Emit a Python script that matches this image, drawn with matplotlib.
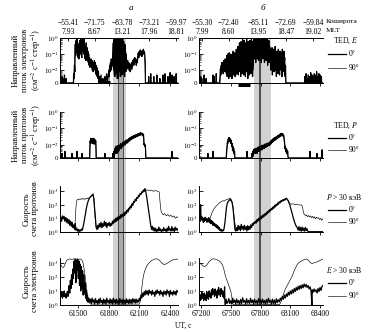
import numpy as np
import matplotlib.pyplot as plt
from matplotlib.lines import Line2D

plt.rcParams['font.family'] = ['Liberation Serif', 'DejaVu Serif']
plt.rcParams['mathtext.fontset'] = 'stix'
plt.rcParams['font.size'] = 5.5

# ---- time axes ----
xlim_a = (61320, 62480)
xlim_b = (67180, 68430)
xticks_a = [61500, 61800, 62100, 62400]
xticks_b = [67200, 67500, 67800, 68100, 68400]

# orbit labels on the top axis: UT, colatitude, MLT
orbit_ut_a = [61400, 61660, 61930, 62195, 62460]
colat_a = ['−55.41', '−71.75', '−83.78', '−73.21', '−59.97']
mlt_a = ['7.93', '8.67', '13.21', '17.96', '18.81']
orbit_ut_b = [67210, 67480, 67775, 68055, 68330]
colat_b = ['−55.30', '−72.40', '−85.11', '−72.69', '−59.84']
mlt_b = ['7.99', '8.60', '13.95', '18.47', '19.02']

# shaded crossing interval and darker core
shade_a = (61841, 61969)
core_a = (61890, 61940)
shade_b = (67735, 67905)
core_b = (67782, 67798)
bar_a = (61733, 61812)
bar_b = (67573, 67694)

# ---- TED electrons, flux (0 = no counts) ----
ted_e_a0 = [
    (61320, 0), (61338, 0), (61340, 0.004), (61342, 0), (61350, 0), (61352, 0.003), (61354, 0),
    (61362, 0), (61364, 0.005), (61366, 0), (61378, 0), (61380, 0.003), (61382, 0),
    (61452, 0), (61454, 0.006), (61458, 0.003), (61462, 0.02), (61466, 0.008), (61470, 0.4),
    (61474, 0.08), (61478, 0.7), (61482, 0.15), (61486, 0.9), (61490, 0.2), (61494, 0.5),
    (61498, 0.06), (61502, 0.35), (61506, 0.05), (61510, 0.25), (61514, 0.7), (61518, 0.1),
    (61522, 0.5), (61526, 0.9), (61530, 0.25), (61534, 0.06), (61538, 0.45), (61542, 1.0),
    (61546, 0.15), (61550, 0.6), (61554, 0.1), (61558, 0.8), (61562, 0.2), (61566, 0.05),
    (61570, 0.3), (61574, 0.04), (61578, 0.5), (61582, 0.08), (61586, 0.25), (61590, 0.04),
    (61594, 0.15), (61598, 0.03), (61602, 0.1), (61606, 0.02), (61610, 0.06), (61614, 0.015),
    (61618, 0.04), (61622, 0.02), (61626, 0.05), (61630, 0.015), (61634, 0.04), (61638, 0.01),
    (61642, 0.03), (61646, 0.008), (61650, 0.025), (61654, 0.01), (61658, 0.04), (61662, 0.012),
    (61666, 0.03), (61670, 0.006), (61674, 0.02), (61678, 0.005), (61682, 0.015), (61686, 0.004),
    (61690, 0.01), (61694, 0.003), (61698, 0.008), (61702, 0), (61710, 0.004), (61712, 0),
    (61724, 0.005), (61726, 0), (61740, 0.003), (61742, 0), (61760, 0.004), (61762, 0),
    (61780, 0.006), (61782, 0), (61796, 0.005), (61800, 0.01), (61804, 0.004), (61808, 0.02),
    (61812, 0.008), (61816, 0.03), (61820, 0.01), (61824, 0.05), (61828, 0.015), (61832, 0.04),
    (61836, 0.02), (61840, 0.08), (61844, 0.5), (61847, 0.01), (61850, 0.9), (61853, 0.02),
    (61856, 0.6), (61859, 0.004), (61862, 1.0), (61865, 0.03), (61868, 0.7), (61871, 0.006),
    (61874, 0.4), (61877, 0.01), (61880, 0.9), (61883, 0.02), (61886, 0.3), (61889, 0.003),
    (61892, 1.0), (61895, 0.05), (61898, 0.6), (61901, 0.008), (61904, 0.8), (61907, 0.02),
    (61910, 0.5), (61913, 0.004), (61916, 1.0), (61919, 0.03), (61922, 0.7), (61925, 0.01),
    (61928, 0.4), (61931, 0.005), (61934, 0.9), (61937, 0.02), (61940, 0.3), (61943, 0.006),
    (61946, 0.6), (61949, 0.015), (61952, 0.25), (61955, 0.004), (61958, 0.4), (61961, 0.01),
    (61964, 0.15), (61967, 0.008), (61970, 0.1), (61975, 0.03), (61980, 0.012), (61985, 0.04),
    (61990, 0.015), (61995, 0.03), (62000, 0.01), (62005, 0.025), (62010, 0.008), (62015, 0.02),
    (62020, 0.012), (62025, 0.03), (62030, 0.015), (62035, 0.04), (62040, 0.02), (62045, 0.05),
    (62050, 0.025), (62055, 0.06), (62060, 0.03), (62065, 0.05), (62070, 0.02), (62075, 0.04),
    (62080, 0.03), (62085, 0.08), (62090, 0.12), (62095, 0.06), (62100, 0.15), (62105, 0.09),
    (62110, 0.18), (62115, 0.1), (62120, 0.15), (62125, 0.07), (62130, 0.16), (62135, 0.12),
    (62140, 0.2), (62145, 0.1), (62150, 0.14), (62154, 0.08), (62158, 0.03), (62160, 0),
    (62190, 0), (62192, 0.004), (62194, 0), (62210, 0), (62212, 0.006), (62214, 0),
    (62240, 0), (62242, 0.004), (62244, 0), (62270, 0), (62272, 0.005), (62274, 0),
    (62300, 0), (62302, 0.003), (62304, 0), (62330, 0), (62332, 0.005), (62334, 0),
    (62350, 0), (62352, 0.006), (62354, 0), (62380, 0), (62382, 0.004), (62384, 0),
    (62400, 0), (62402, 0.007), (62404, 0), (62420, 0), (62422, 0.005), (62424, 0),
    (62440, 0), (62442, 0.004), (62444, 0), (62460, 0), (62462, 0.006), (62464, 0), (62480, 0),
]
ted_e_a90 = [
    (61320, 0), (61455, 0), (61460, 0.01), (61468, 0.2), (61476, 0.5), (61484, 0.1), (61492, 0.7),
    (61500, 0.2), (61508, 0.4), (61516, 0.08), (61524, 0.6), (61532, 0.15), (61540, 0.8),
    (61548, 0.3), (61556, 0.5), (61564, 0.1), (61572, 0.2), (61580, 0.05), (61590, 0.1),
    (61600, 0.03), (61612, 0.05), (61624, 0.02), (61636, 0.03), (61648, 0.015), (61660, 0.02),
    (61672, 0.01), (61684, 0.008), (61696, 0.004), (61700, 0), (61800, 0), (61805, 0.006),
    (61815, 0.02), (61825, 0.01), (61835, 0.04), (61845, 0.3), (61850, 0.005), (61858, 0.8),
    (61864, 0.01), (61872, 0.5), (61878, 0.003), (61886, 0.7), (61892, 0.02), (61900, 1.0),
    (61906, 0.01), (61914, 0.6), (61920, 0.004), (61928, 0.8), (61934, 0.02), (61942, 0.5),
    (61948, 0.008), (61956, 0.3), (61962, 0.01), (61970, 0.05), (61980, 0.02), (61992, 0.03),
    (62004, 0.012), (62016, 0.025), (62028, 0.01), (62040, 0.03), (62052, 0.02), (62064, 0.04),
    (62076, 0.025), (62088, 0.1), (62100, 0.12), (62112, 0.08), (62124, 0.13), (62136, 0.09),
    (62148, 0.11), (62156, 0.02), (62160, 0), (62480, 0),
]
ted_e_b0 = [
    (67180, 0), (67196, 0), (67198, 0.004), (67200, 0), (67206, 0), (67208, 0.003), (67210, 0),
    (67230, 0), (67232, 0.005), (67234, 0), (67250, 0), (67252, 0.003), (67254, 0),
    (67318, 0), (67320, 0.005), (67322, 0), (67332, 0), (67334, 0.004), (67336, 0),
    (67352, 0), (67354, 0.006), (67356, 0), (67388, 0),
    (67392, 0.004), (67396, 0.012), (67400, 0.005), (67404, 0.02), (67408, 0.008), (67412, 0.03),
    (67416, 0.01), (67420, 0.025), (67424, 0.006), (67428, 0.04), (67432, 0.012), (67436, 0.03),
    (67440, 0.008), (67444, 0.05), (67448, 0.015), (67452, 0.04), (67456, 0.006), (67460, 0.08),
    (67464, 0.004), (67468, 0.1), (67472, 0.01), (67476, 0.06), (67480, 0.003), (67484, 0.12),
    (67488, 0.02), (67492, 0.07), (67496, 0.004), (67500, 0.1), (67504, 0.015), (67508, 0.05),
    (67512, 0.003), (67516, 0.09), (67520, 0.01), (67524, 0.15), (67528, 0.005), (67532, 0.08),
    (67536, 0.02), (67540, 0.12), (67544, 0.004), (67548, 0.06), (67552, 0.01), (67556, 0.2),
    (67560, 0.006), (67564, 0.1), (67568, 0.015), (67572, 0.3), (67576, 0.005), (67580, 0.15),
    (67584, 0.02), (67588, 0.5), (67592, 0.008), (67596, 0.25), (67600, 0.004), (67604, 0.6),
    (67608, 0.03), (67612, 0.3), (67616, 0.006), (67620, 0.8), (67624, 0.02), (67628, 0.4),
    (67632, 0.005), (67636, 0.7), (67640, 0.01), (67644, 0.3), (67648, 0.004), (67652, 0.5),
    (67656, 0.02), (67660, 0.9), (67664, 0.008), (67668, 0.35), (67672, 0.003), (67676, 0.6),
    (67680, 0.015), (67684, 0.25), (67688, 0.005), (67692, 0.7), (67696, 0.02), (67700, 0.4),
    (67704, 0.006), (67708, 0.8), (67712, 0.01), (67716, 0.3), (67720, 0.004), (67724, 0.6),
    (67728, 0.02), (67732, 1.0), (67736, 0.05), (67740, 0.9), (67744, 0.1), (67748, 1.0),
    (67752, 0.03), (67756, 0.7), (67760, 0.2), (67764, 1.0), (67768, 0.05), (67772, 0.8),
    (67776, 0.15), (67780, 1.0), (67784, 0.04), (67788, 0.6), (67792, 0.1), (67796, 1.0),
    (67800, 0.08), (67804, 0.9), (67808, 0.03), (67812, 0.7), (67816, 0.2), (67820, 1.0),
    (67824, 0.05), (67828, 0.5), (67832, 0.1), (67836, 0.9), (67840, 0.03), (67844, 0.6),
    (67848, 0.15), (67852, 1.0), (67856, 0.04), (67860, 0.4), (67864, 0.08), (67868, 0.8),
    (67872, 0.02), (67876, 0.5), (67880, 0.1), (67884, 0.7), (67888, 0.03), (67892, 0.3),
    (67896, 0.06), (67900, 0.2), (67904, 0.01), (67908, 0.15), (67912, 0.03), (67916, 0.25),
    (67920, 0.005), (67924, 0.1), (67928, 0.02), (67932, 0.2), (67936, 0.008), (67940, 0.12),
    (67944, 0.03), (67948, 0.3), (67952, 0.01), (67956, 0.1), (67960, 0.004), (67964, 0.15),
    (67968, 0.02), (67972, 0.08), (67976, 0.006), (67980, 0.2), (67984, 0.015), (67988, 0.1),
    (67992, 0.005), (67996, 0.15), (68000, 0.03), (68004, 0.08), (68008, 0.01), (68012, 0.12),
    (68016, 0.004), (68020, 0.2), (68024, 0.02), (68028, 0.1), (68032, 0.008), (68036, 0.15),
    (68040, 0.03), (68044, 0.06), (68048, 0.004), (68052, 0.02), (68056, 0),
    (68246, 0), (68248, 0.004), (68250, 0), (68256, 0), (68258, 0.006), (68260, 0),
    (68268, 0), (68270, 0.003), (68272, 0), (68280, 0), (68282, 0.005), (68284, 0),
    (68292, 0), (68294, 0.004), (68296, 0), (68304, 0), (68306, 0.007), (68308, 0),
    (68316, 0), (68318, 0.005), (68320, 0), (68328, 0), (68330, 0.004), (68332, 0),
    (68340, 0), (68342, 0.006), (68344, 0), (68352, 0), (68354, 0.005), (68356, 0),
    (68364, 0), (68366, 0.008), (68368, 0), (68376, 0), (68378, 0.004), (68380, 0),
    (68388, 0), (68390, 0.006), (68392, 0), (68400, 0), (68402, 0.005), (68404, 0),
    (68412, 0), (68414, 0.004), (68416, 0), (68430, 0),
]
ted_e_b90 = [
    (67180, 0), (67390, 0), (67400, 0.01), (67420, 0.03), (67440, 0.015), (67460, 0.05),
    (67470, 0.005), (67480, 0.08), (67490, 0.01), (67500, 0.06), (67512, 0.004), (67524, 0.1),
    (67536, 0.01), (67548, 0.08), (67560, 0.005), (67572, 0.2), (67584, 0.01), (67596, 0.3),
    (67608, 0.02), (67620, 0.5), (67632, 0.008), (67644, 0.4), (67656, 0.02), (67668, 0.6),
    (67680, 0.01), (67692, 0.5), (67704, 0.03), (67716, 0.7), (67728, 0.01), (67740, 0.8),
    (67752, 0.05), (67764, 0.9), (67776, 0.1), (67788, 0.7), (67800, 0.05), (67812, 0.8),
    (67824, 0.1), (67836, 0.6), (67848, 0.05), (67860, 0.5), (67872, 0.04), (67884, 0.4),
    (67896, 0.03), (67910, 0.15), (67922, 0.01), (67934, 0.1), (67946, 0.02), (67958, 0.12),
    (67970, 0.008), (67982, 0.1), (67994, 0.02), (68006, 0.08), (68018, 0.01), (68030, 0.06),
    (68042, 0.02), (68050, 0.005), (68056, 0), (68430, 0),
]

# ---- TED protons, flux ----
ted_p_a0 = [
    (61320, 0), (61338, 0), (61340, 0.003), (61342, 0), (61366, 0), (61368, 0.004), (61370, 0),
    (61372, 0.003), (61374, 0), (61436, 0), (61438, 0.003), (61440, 0), (61485, 0),
    (61487, 0.004), (61489, 0), (61534, 0), (61536, 0.003), (61538, 0), (61612, 0),
    (61614, 0.006), (61617, 0.018), (61620, 0.012), (61623, 0.025), (61626, 0.014),
    (61629, 0.022), (61632, 0.013), (61635, 0.024), (61638, 0.015), (61641, 0.02),
    (61644, 0.012), (61647, 0.025), (61650, 0.014), (61653, 0.021), (61656, 0.011),
    (61659, 0.023), (61662, 0.013), (61665, 0.02), (61668, 0.012), (61671, 0.018),
    (61674, 0.006), (61676, 0), (61760, 0), (61762, 0.003), (61764, 0), (61838, 0),
    (61840, 0.003), (61843, 0), (61848, 0.004), (61851, 0), (61856, 0.003), (61860, 0.006),
    (61864, 0.003), (61868, 0.008), (61872, 0.004), (61876, 0.006), (61880, 0.003),
    (61884, 0.009), (61888, 0.005), (61892, 0.007), (61896, 0.004), (61900, 0.01),
    (61904, 0.005), (61908, 0.008), (61912, 0.006), (61916, 0.012), (61920, 0.006),
    (61924, 0.01), (61928, 0.007), (61932, 0.012), (61936, 0.008), (61940, 0.015),
    (61944, 0.009), (61948, 0.013), (61952, 0.01), (61956, 0.016), (61960, 0.01),
    (61964, 0.018), (61968, 0.012), (61972, 0.02), (61976, 0.014), (61980, 0.018),
    (61985, 0.013), (61990, 0.022), (61995, 0.016), (62000, 0.025), (62005, 0.018),
    (62010, 0.028), (62015, 0.02), (62020, 0.03), (62025, 0.022), (62030, 0.032),
    (62035, 0.024), (62040, 0.035), (62045, 0.026), (62050, 0.038), (62055, 0.028),
    (62060, 0.04), (62065, 0.03), (62070, 0.042), (62075, 0.032), (62080, 0.045),
    (62085, 0.034), (62090, 0.048), (62095, 0.036), (62100, 0.05), (62105, 0.038),
    (62110, 0.055), (62115, 0.04), (62120, 0.052), (62125, 0.042), (62130, 0.05),
    (62135, 0.035), (62140, 0.045), (62144, 0.02), (62146, 0.01), (62150, 0.012),
    (62154, 0.008), (62158, 0.01), (62162, 0.004), (62164, 0), (62420, 0), (62422, 0.004),
    (62424, 0), (62480, 0),
]
ted_p_a90 = [
    (61320, 0), (61612, 0), (61615, 0.015), (61625, 0.02), (61635, 0.017), (61645, 0.022),
    (61655, 0.016), (61665, 0.019), (61673, 0.01), (61676, 0), (61845, 0), (61850, 0.003),
    (61870, 0.005), (61890, 0.006), (61910, 0.008), (61930, 0.01), (61950, 0.012),
    (61970, 0.015), (61990, 0.018), (62010, 0.022), (62030, 0.026), (62050, 0.03),
    (62070, 0.035), (62090, 0.04), (62110, 0.045), (62130, 0.042), (62143, 0.03),
    (62146, 0.01), (62160, 0.008), (62164, 0), (62480, 0),
]
ted_p_b0 = [
    (67180, 0), (67268, 0), (67270, 0.003), (67272, 0), (67319, 0), (67321, 0.004), (67323, 0),
    (67455, 0), (67458, 0.004), (67462, 0.008), (67466, 0.015), (67470, 0.012), (67474, 0.022),
    (67478, 0.016), (67482, 0.028), (67486, 0.018), (67490, 0.025), (67494, 0.015),
    (67498, 0.022), (67502, 0.012), (67506, 0.018), (67510, 0.008), (67514, 0.012),
    (67518, 0.005), (67522, 0.008), (67526, 0.004), (67530, 0.006), (67534, 0.003),
    (67538, 0.004), (67542, 0), (67662, 0), (67664, 0.004), (67666, 0), (67712, 0),
    (67714, 0.003), (67718, 0.002), (67722, 0.004), (67726, 0.002), (67730, 0.005),
    (67734, 0.003), (67738, 0.005), (67742, 0.003), (67746, 0.006), (67750, 0.003),
    (67754, 0.005), (67758, 0.004), (67762, 0.006), (67766, 0.003), (67770, 0.007),
    (67774, 0.004), (67778, 0.006), (67782, 0.004), (67786, 0.008), (67790, 0.004),
    (67794, 0.007), (67798, 0.005), (67802, 0.008), (67806, 0.005), (67810, 0.009),
    (67814, 0.005), (67818, 0.008), (67822, 0.006), (67826, 0.01), (67830, 0.006),
    (67834, 0.009), (67838, 0.006), (67842, 0.011), (67846, 0.007), (67850, 0.01),
    (67854, 0.007), (67858, 0.012), (67862, 0.008), (67866, 0.011), (67870, 0.008),
    (67874, 0.013), (67878, 0.009), (67882, 0.012), (67886, 0.009), (67890, 0.014),
    (67894, 0.01), (67898, 0.016), (67902, 0.011), (67906, 0.018), (67910, 0.013),
    (67914, 0.02), (67918, 0.014), (67922, 0.022), (67926, 0.016), (67930, 0.024),
    (67934, 0.017), (67938, 0.026), (67942, 0.019), (67946, 0.028), (67950, 0.02),
    (67954, 0.03), (67958, 0.022), (67962, 0.032), (67966, 0.024), (67970, 0.034),
    (67974, 0.026), (67978, 0.038), (67982, 0.028), (67986, 0.04), (67990, 0.03),
    (67994, 0.044), (67998, 0.033), (68002, 0.046), (68006, 0.035), (68010, 0.05),
    (68014, 0.037), (68018, 0.05), (68022, 0.038), (68026, 0.045), (68030, 0.032),
    (68034, 0.038), (68038, 0.025), (68042, 0.015), (68046, 0.006), (68050, 0.008),
    (68054, 0.004), (68058, 0.006), (68062, 0.003), (68066, 0.005), (68070, 0.003),
    (68074, 0.004), (68078, 0.002), (68082, 0), (68297, 0), (68299, 0.004), (68301, 0),
    (68367, 0), (68369, 0.003), (68371, 0), (68418, 0), (68420, 0.005), (68422, 0), (68430, 0),
]
ted_p_b90 = [
    (67180, 0), (67458, 0), (67462, 0.006), (67472, 0.015), (67482, 0.02), (67492, 0.018),
    (67502, 0.014), (67512, 0.009), (67522, 0.005), (67532, 0.003), (67540, 0), (67720, 0),
    (67724, 0.003), (67760, 0.004), (67800, 0.006), (67840, 0.008), (67880, 0.011),
    (67920, 0.017), (67960, 0.025), (68000, 0.035), (68020, 0.04), (68035, 0.03),
    (68042, 0.012), (68060, 0.004), (68080, 0), (68430, 0),
]

# ---- count rates, P > 30 keV ----
rate_p_a0 = [
    (61320, 8), (61328, 12), (61336, 6), (61344, 15), (61352, 9), (61360, 14), (61368, 6),
    (61376, 11), (61384, 5), (61392, 9), (61400, 4), (61408, 8), (61416, 3), (61424, 6),
    (61432, 2.5), (61440, 5), (61448, 2), (61456, 3), (61464, 1.5), (61470, 4), (61476, 1.3),
    (61484, 1.8), (61492, 1.1), (61500, 1.5), (61508, 1.0), (61516, 1.4), (61524, 1.1),
    (61532, 1.6), (61540, 1.3), (61548, 2.5), (61556, 5), (61564, 12), (61572, 25), (61580, 60),
    (61588, 110), (61596, 180), (61604, 260), (61612, 320), (61620, 400), (61628, 450),
    (61636, 520), (61644, 600), (61652, 300), (61660, 60), (61668, 10), (61676, 2), (61684, 1.5),
    (61692, 3), (61700, 2), (61708, 4), (61716, 2.5), (61724, 5), (61732, 2), (61740, 4),
    (61748, 2.5), (61756, 6), (61764, 3), (61772, 5), (61780, 2), (61788, 4), (61796, 3),
    (61804, 5), (61812, 2.5), (61820, 4), (61828, 3), (61836, 6), (61844, 4), (61852, 8),
    (61860, 5), (61868, 10), (61876, 6), (61884, 12), (61892, 7), (61900, 14), (61908, 9),
    (61916, 18), (61924, 11), (61932, 20), (61940, 14), (61948, 25), (61956, 16), (61964, 30),
    (61972, 22), (61980, 40), (61988, 30), (61996, 55), (62004, 45), (62012, 80), (62020, 60),
    (62028, 120), (62036, 90), (62044, 180), (62052, 150), (62060, 260), (62068, 200),
    (62076, 350), (62084, 300), (62092, 500), (62100, 420), (62108, 700), (62116, 600),
    (62124, 900), (62132, 800), (62140, 1200), (62148, 1000), (62156, 1600), (62164, 900),
    (62172, 400), (62180, 150), (62188, 60), (62196, 20), (62204, 8), (62212, 3), (62220, 1.5),
    (62228, 2.5), (62236, 1.2), (62244, 2), (62252, 1.1), (62260, 1.8), (62268, 1.0),
    (62276, 1.5), (62284, 1.1), (62292, 2.2), (62300, 1.2), (62308, 1.6), (62316, 1.0),
    (62324, 1.4), (62332, 1.1), (62340, 2), (62348, 1.2), (62356, 1.5), (62364, 1.0),
    (62372, 1.8), (62380, 1.1), (62388, 2.5), (62396, 1.3), (62404, 1.6), (62412, 1.1),
    (62420, 2.4), (62428, 1.2), (62436, 1.7), (62444, 1.0), (62452, 2.2), (62460, 1.3),
    (62468, 1.8), (62480, 1.2),
]
rate_p_a90 = [
    (61320, 10), (61340, 12), (61360, 9), (61380, 11), (61400, 7), (61420, 6), (61440, 4),
    (61455, 3), (61465, 2), (61470, 8), (61475, 40), (61480, 120), (61486, 220), (61495, 260),
    (61505, 230), (61515, 280), (61525, 250), (61535, 300), (61545, 260), (61555, 290),
    (61565, 250), (61575, 300), (61585, 280), (61595, 330), (61605, 300), (61615, 380),
    (61625, 420), (61635, 500), (61645, 650), (61652, 350), (61660, 50), (61668, 6), (61676, 2),
    (61690, 1.5), (61710, 2.5), (61730, 2), (61750, 3), (61770, 2.5), (61790, 3.5), (61810, 3),
    (61830, 4), (61850, 5), (61870, 8), (61890, 10), (61910, 14), (61930, 18), (61950, 25),
    (61970, 30), (61990, 50), (62010, 70), (62030, 110), (62050, 160), (62070, 250),
    (62090, 400), (62110, 650), (62130, 1000), (62150, 1500), (62165, 1200), (62180, 1300),
    (62200, 1100), (62220, 1250), (62240, 1000), (62260, 1150), (62280, 1000), (62295, 900),
    (62305, 120), (62312, 40), (62320, 25), (62335, 18), (62350, 22), (62365, 15), (62380, 19),
    (62395, 14), (62410, 17), (62425, 12), (62440, 15), (62455, 10), (62470, 13), (62480, 11),
]
rate_p_b0 = [
    (67180, 8), (67186, 12), (67192, 6), (67196, 100), (67200, 10), (67206, 14), (67212, 7),
    (67218, 11), (67224, 5), (67230, 9), (67236, 6), (67242, 12), (67248, 7), (67254, 10),
    (67260, 5), (67266, 9), (67272, 6), (67278, 11), (67284, 5), (67290, 8), (67296, 4),
    (67302, 7), (67308, 4), (67314, 6), (67320, 3), (67326, 5), (67332, 3), (67338, 4),
    (67344, 2.5), (67350, 3.5), (67356, 2), (67362, 3), (67368, 1.8), (67374, 2.5), (67380, 1.5),
    (67386, 2), (67392, 1.2), (67398, 1.5), (67404, 1.1), (67410, 1.4), (67416, 1.1),
    (67422, 1.3), (67428, 1.2), (67434, 2), (67440, 4), (67446, 10), (67452, 30), (67458, 70),
    (67464, 120), (67470, 150), (67476, 180), (67482, 200), (67488, 230), (67494, 250),
    (67500, 220), (67506, 200), (67512, 160), (67518, 100), (67524, 50), (67530, 15),
    (67536, 4), (67542, 1.5), (67550, 1.1), (67558, 2), (67566, 1.2), (67574, 3), (67582, 1.5),
    (67590, 2.5), (67598, 1.2), (67606, 3.5), (67614, 1.6), (67622, 2.5), (67630, 1.3),
    (67638, 3), (67646, 1.5), (67654, 2.2), (67662, 1.1), (67670, 2.8), (67678, 1.4),
    (67686, 2.5), (67694, 1.5), (67702, 3.2), (67710, 2), (67718, 4), (67726, 3), (67734, 5),
    (67742, 4), (67750, 6), (67758, 4.5), (67766, 8), (67774, 6), (67782, 10), (67790, 7),
    (67798, 12), (67806, 9), (67814, 15), (67822, 11), (67830, 18), (67838, 14), (67846, 22),
    (67854, 17), (67862, 28), (67870, 22), (67878, 35), (67886, 28), (67894, 45), (67902, 35),
    (67910, 55), (67918, 45), (67926, 70), (67934, 55), (67942, 90), (67950, 70), (67958, 110),
    (67966, 90), (67974, 140), (67982, 110), (67990, 170), (67998, 140), (68006, 200),
    (68014, 170), (68022, 230), (68030, 200), (68038, 260), (68046, 220), (68054, 280),
    (68062, 300), (68080, 200), (68095, 100), (68110, 40), (68125, 15), (68140, 6),
    (68155, 3), (68170, 2), (68180, 1.3), (68188, 2.4), (68196, 1.2), (68204, 2.0),
    (68212, 1.1), (68220, 2.2), (68228, 1.2), (68236, 1.8), (68244, 1.1), (68252, 2.1),
    (68260, 1.2), (68268, 1.7), (68276, 1.1), (68285, 1.0), (68430, 1.0),
]
rate_p_b90 = [
    (67180, 9), (67200, 11), (67220, 8), (67240, 10), (67260, 7), (67280, 9), (67290, 8),
    (67300, 15), (67315, 30), (67330, 50), (67345, 70), (67360, 90), (67375, 120), (67390, 150),
    (67405, 170), (67420, 200), (67435, 190), (67450, 230), (67465, 250), (67480, 280),
    (67492, 320), (67505, 250), (67515, 150), (67525, 50), (67535, 10), (67545, 3),
    (67555, 1.5), (67570, 1.2), (67600, 2), (67630, 1.5), (67660, 2.5), (67690, 2), (67714, 3),
    (67740, 5), (67770, 8), (67800, 12), (67830, 18), (67860, 25), (67890, 40), (67920, 60),
    (67950, 90), (67980, 130), (68010, 200), (68040, 260), (68060, 320), (68075, 220),
    (68090, 130), (68110, 110), (68130, 120), (68150, 100), (68170, 110), (68190, 95),
    (68210, 100), (68222, 80), (68235, 22), (68245, 20), (68255, 15), (68265, 17), (68275, 13),
    (68285, 16), (68295, 12), (68305, 15), (68315, 11), (68325, 14), (68335, 10), (68345, 13),
    (68355, 9), (68365, 12), (68375, 10), (68385, 11), (68395, 8), (68405, 10), (68415, 7),
    (68425, 9), (68430, 8),
]

# ---- count rates, E > 30 keV ----
rate_e_a0 = [
    (61320, 5), (61326, 9), (61332, 4), (61338, 8), (61344, 3), (61350, 7), (61356, 4),
    (61362, 10), (61368, 4), (61374, 6), (61380, 3), (61386, 6), (61392, 9), (61398, 4),
    (61404, 12), (61410, 25), (61416, 7), (61422, 60), (61428, 15), (61434, 150), (61440, 30),
    (61446, 400), (61452, 80), (61458, 1500), (61464, 200), (61470, 2000), (61476, 40),
    (61482, 1800), (61488, 300), (61494, 2100), (61500, 80), (61506, 1500), (61512, 25),
    (61518, 900), (61524, 10), (61530, 600), (61536, 15), (61542, 300), (61548, 5),
    (61554, 150), (61560, 6), (61566, 40), (61572, 3), (61578, 12), (61584, 2), (61590, 5),
    (61596, 1.5), (61604, 3), (61612, 1.5), (61620, 2.5), (61628, 1.2), (61636, 3),
    (61644, 1.5), (61652, 2.2), (61660, 1.1), (61668, 2.8), (61676, 1.4), (61684, 2),
    (61692, 1.1), (61700, 2.5), (61708, 1.3), (61716, 3), (61724, 1.5), (61732, 2),
    (61740, 1.1), (61748, 2.6), (61756, 1.3), (61764, 2.2), (61772, 1.1), (61780, 3),
    (61788, 1.5), (61796, 2), (61804, 1.2), (61812, 2.7), (61820, 1.3), (61828, 2.2),
    (61836, 1.1), (61844, 3), (61852, 1.4), (61860, 2.3), (61868, 1.2), (61876, 2.6),
    (61884, 1.3), (61892, 2), (61900, 1.1), (61908, 2.8), (61916, 1.5), (61924, 2.2),
    (61932, 1.2), (61940, 2.5), (61948, 1.3), (61956, 2.1), (61964, 1.1), (61972, 2.7),
    (61980, 1.4), (61988, 2.2), (61996, 1.2), (62004, 2.5), (62012, 1.3), (62020, 2.3),
    (62028, 1.2), (62036, 2.8), (62044, 1.5), (62052, 2.4), (62060, 1.3), (62068, 2.6),
    (62076, 1.4), (62084, 2.2), (62092, 1.6), (62100, 3), (62108, 2), (62116, 5), (62124, 3),
    (62132, 7), (62140, 4), (62148, 9), (62156, 5), (62164, 11), (62172, 6), (62180, 10),
    (62188, 5), (62196, 12), (62204, 7), (62212, 9), (62220, 5), (62228, 11), (62236, 6),
    (62244, 8), (62252, 4), (62260, 10), (62268, 6), (62276, 12), (62284, 7), (62292, 9),
    (62300, 5), (62308, 11), (62316, 6), (62324, 8), (62332, 4), (62340, 10), (62348, 6),
    (62356, 9), (62364, 5), (62372, 12), (62380, 7), (62388, 9), (62396, 4), (62404, 11),
    (62412, 6), (62420, 8), (62428, 5), (62436, 10), (62444, 6), (62452, 9), (62460, 5),
    (62468, 11), (62480, 8),
]
rate_e_a90 = [
    (61320, 1000), (61330, 750), (61340, 550), (61350, 500), (61360, 600), (61370, 900),
    (61380, 1400), (61390, 1800), (61400, 2000), (61420, 2100), (61440, 2000), (61460, 2200),
    (61480, 2100), (61500, 2000), (61520, 2100), (61535, 1800), (61545, 1200), (61555, 500),
    (61565, 150), (61575, 40), (61585, 10), (61595, 3), (61605, 1.5), (61620, 1.1),
    (62100, 1.1), (62110, 2), (62120, 8), (62130, 40), (62140, 120), (62150, 250),
    (62165, 500), (62180, 800), (62195, 1100), (62210, 1400), (62225, 1700), (62240, 1900),
    (62255, 2100), (62270, 2200), (62285, 2000), (62300, 1600), (62320, 1100), (62340, 850),
    (62360, 900), (62380, 1100), (62400, 1400), (62420, 1700), (62440, 1900), (62460, 2000),
    (62480, 2100),
]
rate_e_b0 = [
    (67180, 3), (67186, 6), (67192, 2), (67198, 5), (67204, 2.5), (67210, 8), (67216, 3),
    (67222, 6), (67228, 2), (67234, 7), (67240, 3), (67246, 5), (67252, 2), (67258, 9),
    (67264, 3), (67270, 6), (67276, 2.5), (67282, 10), (67288, 4), (67294, 7), (67300, 3),
    (67306, 12), (67312, 5), (67318, 15), (67324, 6), (67330, 10), (67336, 4), (67342, 14),
    (67348, 5), (67354, 9), (67360, 3), (67366, 12), (67372, 5), (67378, 18), (67384, 6),
    (67390, 10), (67396, 4), (67402, 15), (67408, 6), (67414, 11), (67420, 4), (67426, 9),
    (67432, 3), (67438, 20), (67442, 0.9), (67448, 1.5), (67454, 2.5), (67460, 1.2),
    (67470, 1.5), (67480, 2.8), (67490, 1.2), (67500, 2), (67510, 1.1), (67520, 3),
    (67530, 1.4), (67540, 2.2), (67550, 1.1), (67560, 2.6), (67570, 1.3), (67580, 2),
    (67590, 1.1), (67600, 2.4), (67610, 1.2), (67620, 3.2), (67630, 1.5), (67640, 2),
    (67650, 1.1), (67660, 2.7), (67670, 1.3), (67680, 2.1), (67690, 1.2), (67700, 2.9),
    (67710, 1.4), (67720, 2.2), (67730, 1.1), (67740, 2.5), (67750, 1.3), (67760, 2),
    (67770, 1.1), (67780, 2.8), (67790, 1.4), (67800, 2.3), (67810, 1.2), (67820, 2.6),
    (67830, 1.3), (67840, 2), (67850, 1.1), (67860, 2.4), (67870, 1.3), (67880, 2.9),
    (67890, 1.5), (67900, 2.1), (67910, 1.1), (67920, 2.5), (67930, 1.2), (67940, 2.2),
    (67950, 1.1), (67960, 2.7), (67970, 1.4), (67980, 2.3), (67990, 1.6), (68000, 3),
    (68010, 2), (68020, 4), (68030, 2.5), (68040, 5), (68050, 3), (68060, 6), (68070, 4),
    (68080, 8), (68090, 5), (68100, 10), (68110, 6), (68120, 12), (68130, 7), (68140, 15),
    (68150, 9), (68160, 18), (68170, 11), (68180, 22), (68190, 13), (68200, 25), (68210, 15),
    (68220, 28), (68230, 17), (68240, 32), (68250, 20), (68260, 30), (68270, 18), (68280, 25),
    (68290, 14), (68300, 20), (68310, 10), (68318, 0.9), (68322, 12), (68330, 8), (68340, 14),
    (68350, 9), (68360, 12), (68370, 7), (68380, 15), (68390, 9), (68400, 18), (68410, 11),
    (68420, 22), (68430, 25),
]
rate_e_b90 = [
    (67180, 1300), (67200, 900), (67220, 650), (67240, 600), (67260, 800), (67280, 1300),
    (67300, 1800), (67320, 2200), (67340, 2100), (67360, 1900), (67380, 1600), (67400, 1200),
    (67415, 800), (67430, 400), (67442, 160), (67455, 80), (67470, 40), (67485, 20),
    (67500, 10), (67510, 4), (67518, 1.2), (67530, 1), (67990, 1), (68005, 1.5), (68020, 3),
    (68035, 7), (68050, 14), (68065, 22), (68080, 35), (68097, 60), (68117, 110), (68140, 300),
    (68168, 800), (68190, 1200), (68218, 1600), (68240, 1900), (68269, 2100), (68290, 1500),
    (68305, 1100), (68319, 1000), (68340, 1100), (68369, 1300), (68395, 1600), (68420, 2000),
    (68430, 2100),
]

ZERO = -2.8  # display level used for zero flux


def unpack(pairs):
    a = np.array(pairs, dtype=float)
    return a[:, 0], a[:, 1]


def ted_y(v):
    return np.where(v > 0, np.log10(np.where(v > 0, v, 1.0)), ZERO)


W, H = 372, 332
fig = plt.figure(figsize=(W / 100, H / 100), dpi=100)


def rect(px0, px1, top, bot):
    return [px0 / W, 1 - bot / H, (px1 - px0) / W, (bot - top) / H]


COLS = [(60, 178), (199, 323)]
ROWS = [(38, 83), (112, 158), (186, 232), (258, 305)]
XLIMS = [xlim_a, xlim_b]
XTICKS = [xticks_a, xticks_b]

# shaded intervals drawn on a background axes that spans all four rows
for (c0, c1), xl, sh, core in zip(COLS, XLIMS, [shade_a, shade_b], [core_a, core_b]):
    bg = fig.add_axes(rect(c0, c1, ROWS[0][0], ROWS[3][1]), zorder=0)
    bg.set_xlim(xl)
    bg.set_ylim(0, 1)
    bg.axis('off')
    bg.axvspan(*sh, color='#d2d2d2', lw=0)
    bg.axvspan(*core, color='#ababab', lw=0)
    bg.axvline(core[0], color='#3a3a3a', lw=0.6)
    bg.axvline(core[1], color='#3a3a3a', lw=0.6)

series = [
    [(ted_e_a0, ted_e_a90), (ted_e_b0, ted_e_b90)],
    [(ted_p_a0, ted_p_a90), (ted_p_b0, ted_p_b90)],
    [(rate_p_a0, rate_p_a90), (rate_p_b0, rate_p_b90)],
    [(rate_e_a0, rate_e_a90), (rate_e_b0, rate_e_b90)],
]

ted_minor = [n + np.log10(k) for n in (-3, -2, -1) for k in range(2, 10)]
ted_minor = [m for m in ted_minor if ZERO < m < 0]

axes = {}
for r, (top, bot) in enumerate(ROWS):
    for c, (c0, c1) in enumerate(COLS):
        ax = fig.add_axes(rect(c0, c1, top, bot), zorder=2)
        ax.patch.set_alpha(0)
        s0, s90 = series[r][c]
        t0, v0 = unpack(s0)
        t9, v9 = unpack(s90)
        if r < 2:
            ax.plot(t9, ted_y(v9), color='k', lw=0.45)
            ax.plot(t0, ted_y(v0), color='k', lw=0.9)
            ax.set_ylim(ZERO, 0)
            ax.set_yticks([ZERO, -2, -1, 0])
            ax.set_yticklabels(['0', '$10^{-2}$', '$10^{-1}$', '$10^{0}$'])
            ax.set_yticks(ted_minor, minor=True)
        else:
            ax.plot(t9, v9, color='k', lw=0.45)
            ax.plot(t0, v0, color='k', lw=0.9)
            ax.set_yscale('log')
            ax.set_ylim(0.95, 2500)
            ax.set_yticks([1, 10, 100, 1000])
            ax.set_yticklabels(['$10^0$', '$10^1$', '$10^2$', '$10^3$'])
        ax.set_xlim(XLIMS[c])
        ax.set_xticks(XTICKS[c])
        if r < 3:
            ax.set_xticklabels([])
        ax.tick_params(axis='y', which='major', direction='in', length=3, width=0.6,
                       pad=1.2, labelsize=5)
        ax.tick_params(axis='y', which='minor', direction='in', length=1.6, width=0.4)
        ax.tick_params(axis='x', which='major', direction='out', length=2, width=0.6, pad=1.5)
        ax.spines['right'].set_visible(False)
        ax.spines['top'].set_visible(r == 0)
        for sp in ax.spines.values():
            sp.set_linewidth(0.7)
        axes[(r, c)] = ax

# orbit parameters along the top of the first row
for c, (ut, colat, mlt) in enumerate([(orbit_ut_a, colat_a, mlt_a), (orbit_ut_b, colat_b, mlt_b)]):
    sec = axes[(0, c)].secondary_xaxis('top')
    sec.set_xticks(ut)
    sec.set_xticklabels([f'{a}\n{m}' for a, m in zip(colat, mlt)], linespacing=1.15)
    sec.tick_params(direction='in', length=2, width=0.6, pad=1.5, labelsize=5.5)
    sec.spines['top'].set_linewidth(0.7)

# time-interval bars at the bottom of the electron flux panels
axes[(0, 0)].plot(bar_a, [ZERO + 0.06] * 2, color='k', lw=2.2, solid_capstyle='butt', clip_on=False)
axes[(0, 1)].plot(bar_b, [ZERO - 0.12] * 2, color='k', lw=2.2, solid_capstyle='butt', clip_on=False)


def ftext(x, y, s, **kw):
    fig.text(x / W, 1 - y / H, s, **kw)


ftext(131, 8, 'а', ha='center', va='center', style='italic', fontsize=6.5)
ftext(263, 8, 'б', ha='center', va='center', style='italic', fontsize=6.5)
ftext(326, 22, 'Коширота', ha='left', va='center', fontsize=5.3)
ftext(326, 31, 'MLT', ha='left', va='center', fontsize=5.3)
ftext(183, 326, 'UT, с', ha='center', va='center')

# y labels
ylabels = [
    ('Направленный\nпоток электронов\n(см$^{-2}$ с$^{-1}$ стер$^{-1}$)', 28, 60),
    ('Направленный\nпоток протонов\n(см$^{-2}$ с$^{-1}$ стер$^{-1}$)', 28, 135),
    ('Скорость\nсчета протонов', 31, 209),
    ('Скорость\nсчета электронов', 31, 281),
]
for s, x, y in ylabels:
    ftext(x, y, s, rotation=90, ha='center', va='center', multialignment='center',
          fontsize=6, linespacing=1.15)

# legends on the right
legends = [
    ('TED, $\\it{E}$', 333, 41, 54, 68),
    ('TED, $\\it{P}$', 333, 126, 138, 150),
    ('$\\it{P}$ > 30 кэВ', 326, 197, 210, 222),
    ('$\\it{E}$ > 30 кэВ', 326, 270, 283, 296),
]
for title, tx, ty, y0, y90 in legends:
    ftext(tx, ty, title, ha='left', va='center')
    fig.add_artist(Line2D([328 / W, 346 / W], [1 - y0 / H] * 2, color='k', lw=0.9))
    fig.add_artist(Line2D([328 / W, 346 / W], [1 - y90 / H] * 2, color='k', lw=0.45))
    ftext(349, y0, '0°', ha='left', va='center')
    ftext(349, y90, '90°', ha='left', va='center')

fig.savefig('out.png', dpi=100)
